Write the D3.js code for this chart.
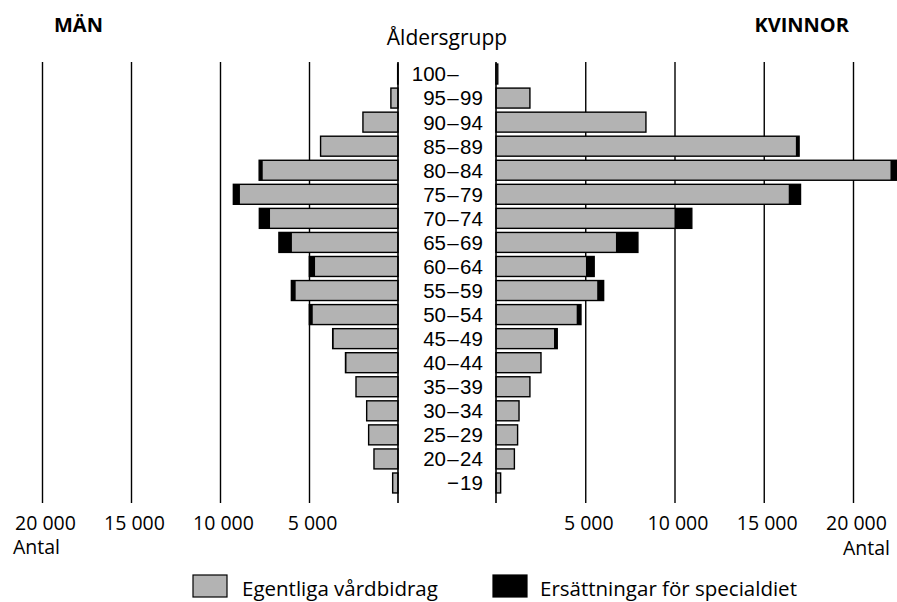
<!DOCTYPE html>
<html>
<head>
<meta charset="utf-8">
<script src="https://cdn.jsdelivr.net/npm/d3@7"></script>
<style>
  body { margin: 0; background: #fff; }
  text { font-family: "Open Sans", "Noto Sans", sans-serif; fill: #000; }
</style>
</head>
<body>
<div id="chart"></div>
<script>
const ages = ["100–", "95–99", "90–94", "85–89", "80–84", "75–79", "70–74", "65–69", "60–64",
  "55–59", "50–54", "45–49", "40–44", "35–39", "30–34", "25–29", "20–24", "−19"];

// män
const menCare = [20, 400, 1970, 4350, 7600, 8880, 7190, 5960, 4660, 5750, 4790, 3620, 2900, 2360, 1760, 1650, 1350, 300];
const menDiet = [0, 0, 0, 0, 200, 370, 600, 730, 320, 240, 190, 50, 50, 0, 0, 0, 0, 0];
// kvinnor
const womenCare = [100, 1900, 8400, 16800, 22100, 16400, 10000, 6720, 5040, 5670, 4520, 3250, 2520, 1900, 1290, 1210, 1030, 260];
const womenDiet = [0, 0, 0, 180, 340, 660, 970, 1230, 460, 360, 240, 180, 0, 0, 0, 0, 0, 0];

const tickVals = [5000, 10000, 15000, 20000];
const legendLabels = ["Egentliga vårdbidrag", "Ersättningar för specialdiet"];
const colors = ["#b3b3b3", "#000000"];

const W = 897, H = 602;
const svg = d3.select("#chart").append("svg").attr("width", W).attr("height", H);

const yTop = 62, yBottom = 503;
const y = d3.scaleBand().domain(ages).range([62, 495]).paddingInner(0.17).paddingOuter(0.085);
const xL = d3.scaleLinear().domain([0, 20000]).range([398, 42]);
const xR = d3.scaleLinear().domain([0, 20000]).range([496, 853]);

const loc = d3.formatLocale({ decimal: ",", thousands: " ", grouping: [3], currency: ["", " kr"] });
const fmt = loc.format(",d");

// gridlines + tick labels
[xL, xR].forEach(x => {
  const g = svg.append("g").attr("transform", `translate(0,${yBottom})`)
    .call(d3.axisBottom(x).tickValues(tickVals).tickFormat(fmt).tickSize(-(yBottom - yTop)).tickPadding(13));
  g.select(".domain").remove();
  g.selectAll(".tick line").attr("stroke", "#000").attr("stroke-width", 1.4);
  g.selectAll(".tick text").attr("font-size", 19.5).attr("dx", 3)
    .attr("font-family", "Open Sans, sans-serif").attr("fill", "#000");
});

// bars
const rows = ages.map((a, i) => ({ age: a, mc: menCare[i], md: menDiet[i], wc: womenCare[i], wd: womenDiet[i] }));

const barG = svg.append("g");
rows.forEach(d => {
  const y0 = y(d.age), h = y.bandwidth();
  // men
  barG.append("rect").attr("x", xL(d.mc + d.md)).attr("y", y0)
    .attr("width", xL(0) - xL(d.mc + d.md)).attr("height", h)
    .attr("fill", colors[0]).attr("stroke", "#000").attr("stroke-width", 1.4);
  if (d.md > 0) barG.append("rect").attr("x", xL(d.mc + d.md)).attr("y", y0)
    .attr("width", xL(d.mc) - xL(d.mc + d.md)).attr("height", h).attr("fill", colors[1]);
  // women
  barG.append("rect").attr("x", xR(0)).attr("y", y0)
    .attr("width", xR(d.wc + d.wd) - xR(0)).attr("height", h)
    .attr("fill", colors[0]).attr("stroke", "#000").attr("stroke-width", 1.4);
  if (d.wd > 0) barG.append("rect").attr("x", xR(d.wc)).attr("y", y0)
    .attr("width", xR(d.wc + d.wd) - xR(d.wc)).attr("height", h).attr("fill", colors[1]);
});

// zero lines
[xL(0), xR(0)].forEach(x0 => {
  svg.append("line").attr("x1", x0).attr("x2", x0).attr("y1", yTop).attr("y2", yBottom)
    .attr("stroke", "#000").attr("stroke-width", 1.6);
});

// age labels, aligned on the dash (one text per label, tspans for the parts)
const dashX = 453;
const ageG = svg.append("g").attr("font-size", 20.5);
ages.forEach(a => {
  const [pre, post] = a.split(/[–−]/);
  const dash = a.match(/[–−]/)[0];
  const cy = y(a) + y.bandwidth() / 2;
  const t = ageG.append("text").attr("y", cy).attr("dy", "0.36em")
    .style("font-family", "'Liberation Sans', Arial, sans-serif");
  if (pre) t.append("tspan").attr("x", dashX - 7).attr("text-anchor", "end").text(pre);
  t.append("tspan").attr("x", dashX).attr("text-anchor", "middle").text(dash);
  if (post) t.append("tspan").attr("x", dashX + 7).attr("text-anchor", "start").text(post);
});

svg.append("text").attr("x", 447).attr("y", 45).attr("text-anchor", "middle")
  .attr("font-size", 21).text("Åldersgrupp");
svg.append("text").attr("x", 54).attr("y", 32).attr("font-size", 20).attr("font-weight", "bold").text("MÄN");
svg.append("text").attr("x", 849).attr("y", 32).attr("text-anchor", "end").attr("font-size", 20).attr("font-weight", "bold").text("KVINNOR");

svg.append("text").attr("x", 13).attr("y", 554).attr("font-size", 19.5).text("Antal");
svg.append("text").attr("x", 890).attr("y", 555).attr("text-anchor", "end").attr("font-size", 19.5).text("Antal");

// legend
const leg = svg.append("g");
[[193, 242], [493, 540]].forEach(([bx, tx], i) => {
  leg.append("rect").attr("x", bx).attr("y", 575).attr("width", 34).attr("height", 22)
    .attr("fill", colors[i]).attr("stroke", "#000").attr("stroke-width", 1.2);
  leg.append("text").attr("x", tx).attr("y", 596).attr("font-size", 20.5).text(legendLabels[i]);
});
</script>
</body>
</html>
